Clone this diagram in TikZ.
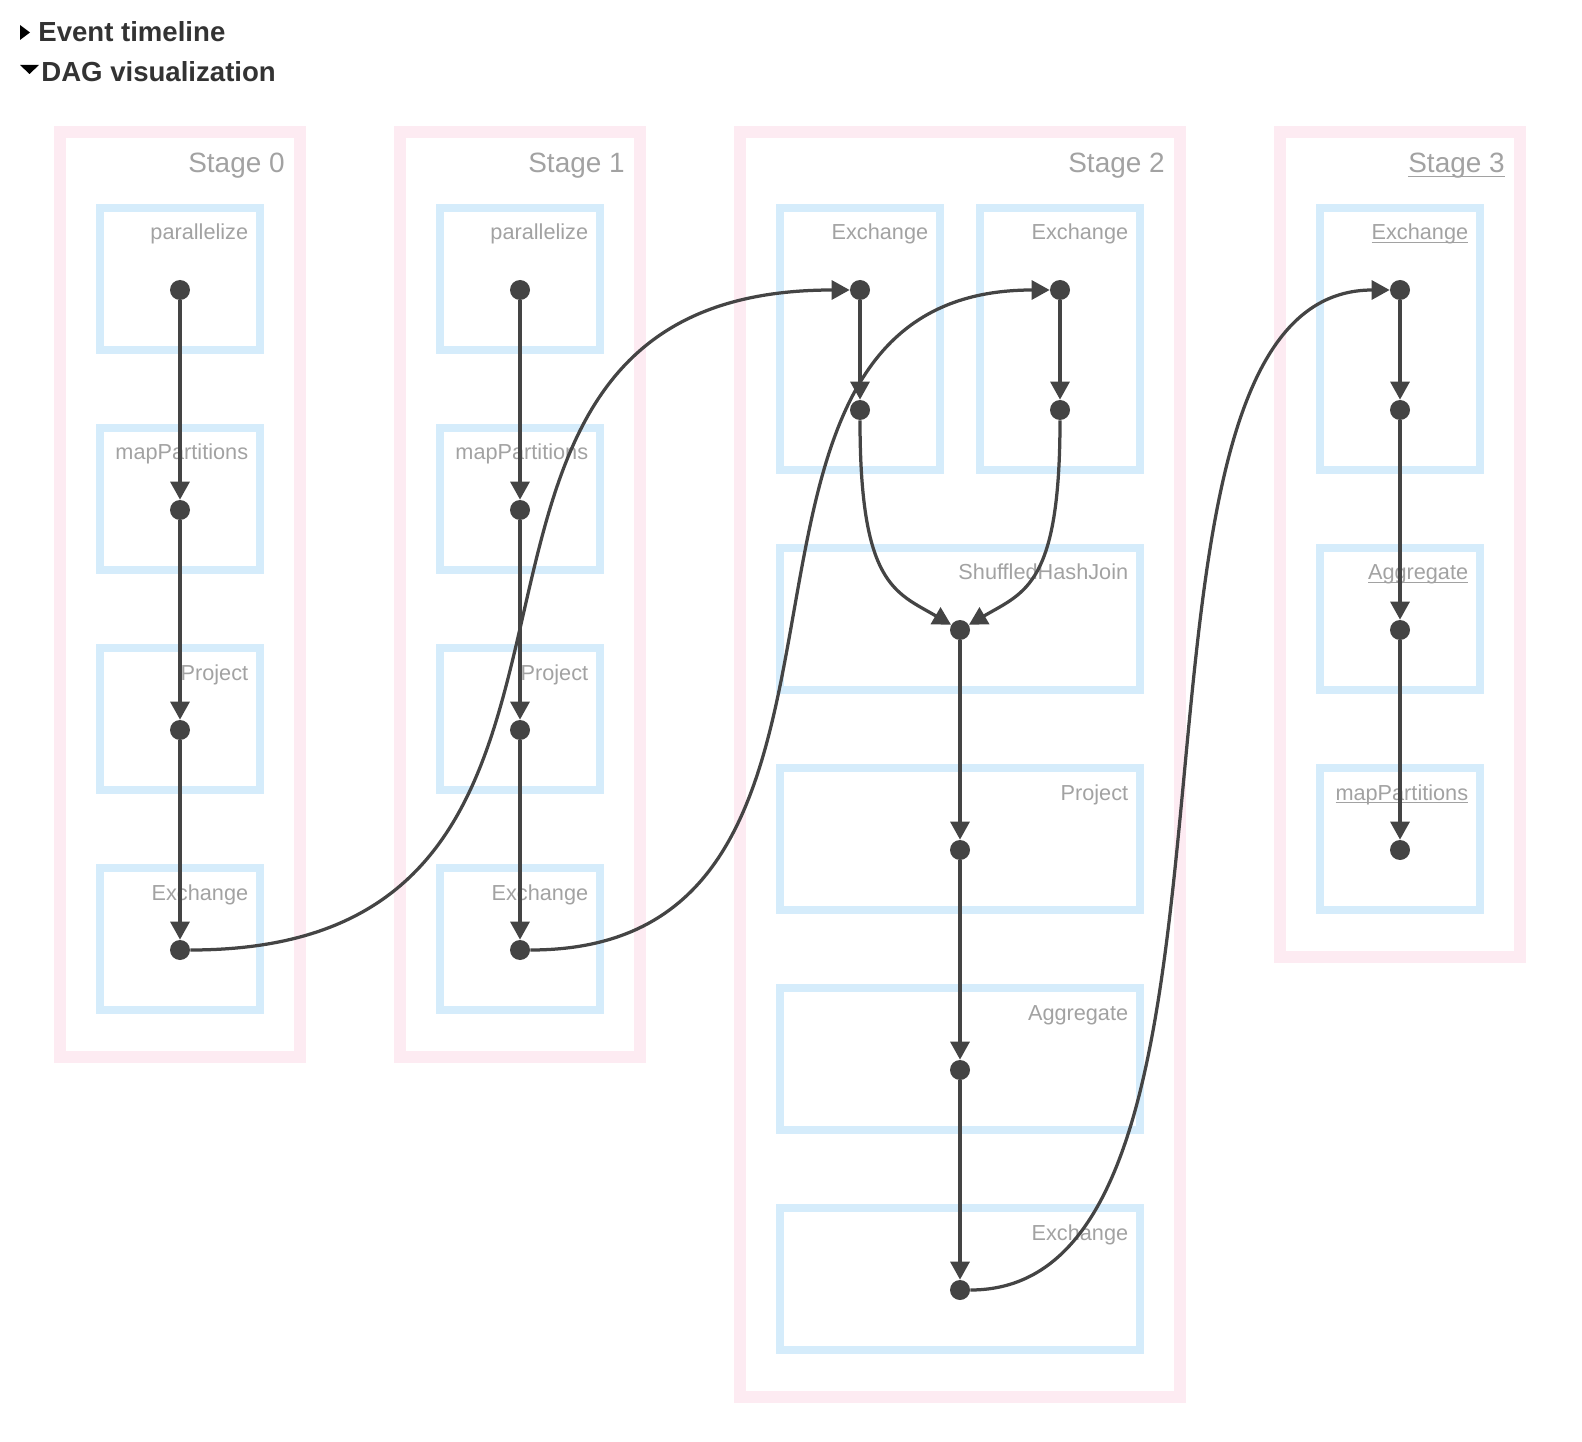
\documentclass[tikz,border=0pt]{standalone}
\usepackage{fontspec}
\setmainfont{Liberation Sans}
\usepackage{xcolor}
\usepackage{tikz}
\usetikzlibrary{arrows.meta}
\definecolor{stagepink}{HTML}{FDEBF2}
\definecolor{opblue}{HTML}{D5ECFB}
\definecolor{edgegray}{HTML}{444444}
\definecolor{labelgray}{HTML}{A2A2A2}
\definecolor{headdark}{HTML}{333333}
\newcommand{\linked}[1]{\sbox0{#1}\rlap{\rule[-0.16em]{\wd0}{0.06em}}\usebox0}

\begin{document}
\begin{tikzpicture}[x=0.02cm,y=-0.02cm,>={Triangle[length=0.36cm,width=0.38cm]},
  stagebox/.style={draw=stagepink,line width=0.24cm},
  opbox/.style={draw=opblue,line width=0.16cm},
  opdot/.style={circle,fill=edgegray,minimum size=0.4cm,inner sep=0pt},
  flow/.style={->,draw=edgegray,line width=0.065cm},
  stagetext/.style={anchor=base east,inner sep=0pt,text=labelgray,font=\fontsize{15.9}{19}\selectfont},
  optext/.style={anchor=base east,inner sep=0pt,text=labelgray,font=\fontsize{12.35}{15}\selectfont},
  headtext/.style={anchor=base west,inner sep=0pt,text=headdark,font=\bfseries\fontsize{15.7}{19}\selectfont}]
  \useasboundingbox (0,0) rectangle (1582,1442);

  % header
  \fill (20,25) -- (30,32.5) -- (20,40) -- cycle;
  \node[headtext] (evt) at (38,42) {Event timeline};
  \fill (20,65) -- (39,65) -- (29.5,74) -- cycle;
  \node[headtext] (dag) at (41,82) {DAG visualization};

  % stages 0 and 1
  \foreach \s/\x in {0/180,1/520} {
    \draw[stagebox] (\x-120,132) rectangle (\x+120,1057);
    \node[stagetext] (st\s) at (\x+105,173) {Stage \s};
    \foreach \i/\y/\lbl in {0/290/parallelize,1/510/mapPartitions,2/730/Project,3/950/Exchange} {
      \draw[opbox] (\x-80,\y-82) rectangle (\x+80,\y+60);
      \node[optext] (op\s-\i) at (\x+68.5,\y-50) {\lbl};
      \node[opdot] (d\s-\i) at (\x,\y) {};
    }
    \foreach \i [remember=\i as \p (initially 0)] in {1,2,3}
      \draw[flow] (d\s-\p) -- (d\s-\i);
  }

  % stage 2
  \draw[stagebox] (740,132) rectangle (1180,1397);
  \node[stagetext] (st2) at (1165,173) {Stage 2};
  \draw[opbox] (780,208) rectangle (940,470);
  \draw[opbox] (980,208) rectangle (1140,470);
  \foreach \y in {630,850,1070,1290}
    \draw[opbox] (780,\y-82) rectangle (1140,\y+60);
  \node[optext] (op2-0) at (928.5,240) {Exchange};
  \node[optext] (op2-1) at (1128.5,240) {Exchange};
  \foreach \i/\y/\lbl in {2/630/ShuffledHashJoin,3/850/Project,4/1070/Aggregate,5/1290/Exchange}
    \node[optext] (op2-\i) at (1128.5,\y-50) {\lbl};
  \node[opdot] (d2-0) at (860,290) {};
  \node[opdot] (d2-1) at (860,410) {};
  \node[opdot] (d2-2) at (1060,290) {};
  \node[opdot] (d2-3) at (1060,410) {};
  \foreach \i/\y in {4/630,5/850,6/1070,7/1290}
    \node[opdot] (d2-\i) at (960,\y) {};
  \draw[flow] (d2-0) -- (d2-1);
  \draw[flow] (d2-2) -- (d2-3);
  \draw[flow] (d2-1) .. controls +(0,175) and +(-65,-38) .. (d2-4);
  \draw[flow] (d2-3) .. controls +(0,175) and +(65,-38) .. (d2-4);
  \foreach \i [remember=\i as \p (initially 4)] in {5,6,7}
    \draw[flow] (d2-\p) -- (d2-\i);

  % stage 3
  \draw[stagebox] (1280,132) rectangle (1520,957);
  \node[stagetext] (st3) at (1505,173) {\linked{Stage 3}};
  \draw[opbox] (1320,208) rectangle (1480,470);
  \draw[opbox] (1320,548) rectangle (1480,690);
  \draw[opbox] (1320,768) rectangle (1480,910);
  \foreach \i/\y/\lbl in {0/240/Exchange,1/580/Aggregate,2/800/mapPartitions}
    \node[optext] (op3-\i) at (1468.5,\y) {\linked{\lbl}};
  \foreach \i/\y in {0/290,1/410,2/630,3/850}
    \node[opdot] (d3-\i) at (1400,\y) {};
  \foreach \i [remember=\i as \p (initially 0)] in {1,2,3}
    \draw[flow] (d3-\p) -- (d3-\i);

  % shuffles between stages
  \draw[flow] (d0-3) .. controls +(515,0) and +(-504,0) .. (d2-0);
  \draw[flow] (d1-3) .. controls +(410,0) and +(-398,0) .. (d2-2);
  \draw[flow] (d2-7) .. controls +(333,0) and +(-320,0) .. (d3-0);
\end{tikzpicture}
\end{document}
